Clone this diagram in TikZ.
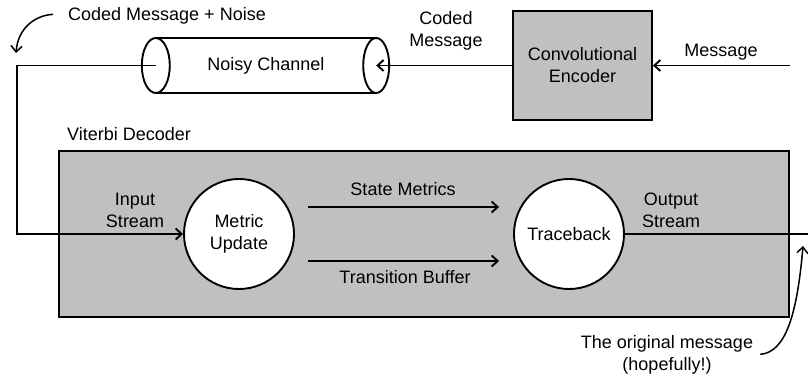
\documentclass[tikz,border=0pt]{standalone}
\usepackage{fontspec}
\setmainfont{Liberation Sans}
\usetikzlibrary{arrows.meta}
\usetikzlibrary{positioning}
\definecolor{panelgray}{RGB}{192,192,192}

\begin{document}
\begin{tikzpicture}[x=1pt,y=-1pt,font=\fontsize{18}{22}\selectfont,
	wire/.style={line width=1.9pt},
	barb/.style={-{Straight Barb[length=6pt,width=11pt]}}]
	\useasboundingbox (0,0) rectangle (808,377);

	\begin{scope}[every node/.style={draw, line width=1.9pt, fill=panelgray, inner sep=0pt, align=center}]
		\node[minimum width=730pt, minimum height=166pt] (dec) at (424,234) {};
		\node[minimum width=139pt, minimum height=109pt] (enc) at (582.5,65.5) {Convolutional\\Encoder};
	\end{scope}

	\begin{scope}[every node/.style={circle, draw, line width=1.9pt, fill=white, minimum size=110pt, inner sep=0pt, align=center}]
		\node (metric) at (239,234) {Metric\\Update};
		\node (trace) at (569,234) {Traceback};
	\end{scope}

	% the channel, drawn as a tube
	\node[minimum width=220pt, minimum height=55pt, inner sep=0pt] (chan) at (266,65.5) {Noisy Channel};
	\draw[wire] (chan.north west) -- (chan.north east) (chan.south west) -- (chan.south east);
	\draw[wire] (chan.west) ellipse [x radius=14pt, y radius=27.5pt]
	            (chan.east) ellipse [x radius=13pt, y radius=27.5pt];

	% labels (base = last line)
	\begin{scope}[every node/.style={inner sep=0pt, align=center}]
		\node[anchor=base west] (noise) at (68,21) {Coded Message + Noise};
		\node[anchor=base] (coded) at (446,47) {Coded\\Message};
		\node[anchor=base] (msg) at (721,57) {Message};
		\node[anchor=base west] (vit) at (67,140) {Viterbi Decoder};
		\node[anchor=base] (instream) at (135,227) {Input\\Stream};
		\node[anchor=base] (sm) at (403,195) {State Metrics};
		\node[anchor=base] (tb) at (405,283) {Transition Buffer};
		\node[anchor=base] (outstream) at (671,227) {Output\\Stream};
		\node[anchor=base] (orig) at (667,370) {The original message\\(hopefully!)};
	\end{scope}

	\coordinate (msgsrc) at (790,65.5);
	\coordinate (outend) at (808,234);
	\coordinate (noisetip) at (16,53);
	\coordinate (origtip) at (803,246);

	\draw[wire, barb] (msgsrc) -- (enc.east);
	\draw[wire, barb] (enc.west) -- (chan.east);
	\draw[wire, barb] (chan.west) -- ++(-139,0) |- (metric.west);
	\draw[wire, barb, shorten <=13pt, shorten >=14pt] ([yshift=27pt]metric.east) -- ([yshift=27pt]trace.west);
	\draw[wire, barb, shorten <=13pt, shorten >=14pt] ([yshift=-27pt]metric.east) -- ([yshift=-27pt]trace.west);
	\draw[wire] (trace.east) -- (outend);

	% remarks with curly arrows
	\draw[line width=1.5pt, barb] ([xshift=-15pt,yshift=2pt]noise.west) .. controls +(-18,1) and +(2,-25) .. (noisetip);
	\draw[line width=1.5pt, barb] ([xshift=7pt]orig.east) .. controls +(25,-2) and +(-6,70) .. (origtip);
\end{tikzpicture}
\end{document}
